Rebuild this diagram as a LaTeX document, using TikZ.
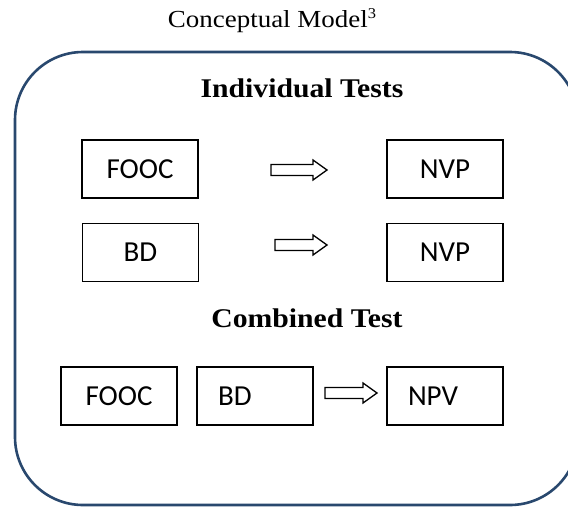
\documentclass[tikz,border=0pt]{standalone}
\usepackage{fontspec}
\newfontfamily\boxfont{Carlito}
\newfontfamily\headfont[FakeStretch=1.1]{Liberation Serif}
\definecolor{framecol}{RGB}{41,72,110}
\tikzset{
	box/.style={draw, line width=1.8pt, minimum width=116pt, minimum height=58pt, inner sep=0pt,
		font=\boxfont\fontsize{29}{34}\selectfont},
	leftbox/.style={box, inner xsep=21pt, text width=74pt, align=left},
	fatarrow/.style={draw, line width=1.3pt, line join=miter},
	heading/.style={anchor=base, inner sep=0pt, font=\headfont\bfseries\fontsize{27}{32}\selectfont}
}
% block arrow from tail coordinate #1, total length #2
\newcommand{\blockarrow}[2]{%
	\draw [fatarrow] (#1) ++(0,-5.5) -- ++(#2-14,0) -- ++(0,-4.5) -- ++(14,10)
		-- ++(-14,10) -- ++(0,-4.5) -- ++(-#2+14,0) -- cycle;}
\begin{document}
\begin{tikzpicture}[x=1pt,y=-1pt]
	\useasboundingbox (0,0) rectangle (568,507);
	\clip (0,0) rectangle (568,507);
	\draw [framecol, line width=2.6pt, rounded corners=68pt] (15,52) rectangle (578,505);
	\node [anchor=base, inner sep=0pt, font=\headfont\fontsize{24.5}{30}\selectfont] (title) at (272,27)
		{Conceptual Model\raisebox{0.75ex}{\fontsize{15}{15}\selectfont 3}};
	% individual tests
	\node [heading] (indiv) at (302,97) {Individual Tests};
	\node [box] (fooc1) at (140,169) {FOOC};
	\node [box] (nvp1) at (445,169) {NVP};
	\coordinate (arr1) at (271,170);
	\blockarrow{arr1}{56}
	\node [box] (bd1) at (140.5,252.5) {BD};
	\node [box] (nvp2) at (445,252.5) {NVP};
	\coordinate (arr2) at (275,245);
	\blockarrow{arr2}{52}
	% combined test
	\node [heading] (comb) at (307,327) {Combined Test};
	\node [box] (fooc2) at (119,396) {FOOC};
	\node [leftbox] (bd2) at (255,396) {BD};
	\node [leftbox] (npv) at (445,396) {NPV};
	\coordinate (arr3) at (325,393);
	\blockarrow{arr3}{52}
\end{tikzpicture}
\end{document}
